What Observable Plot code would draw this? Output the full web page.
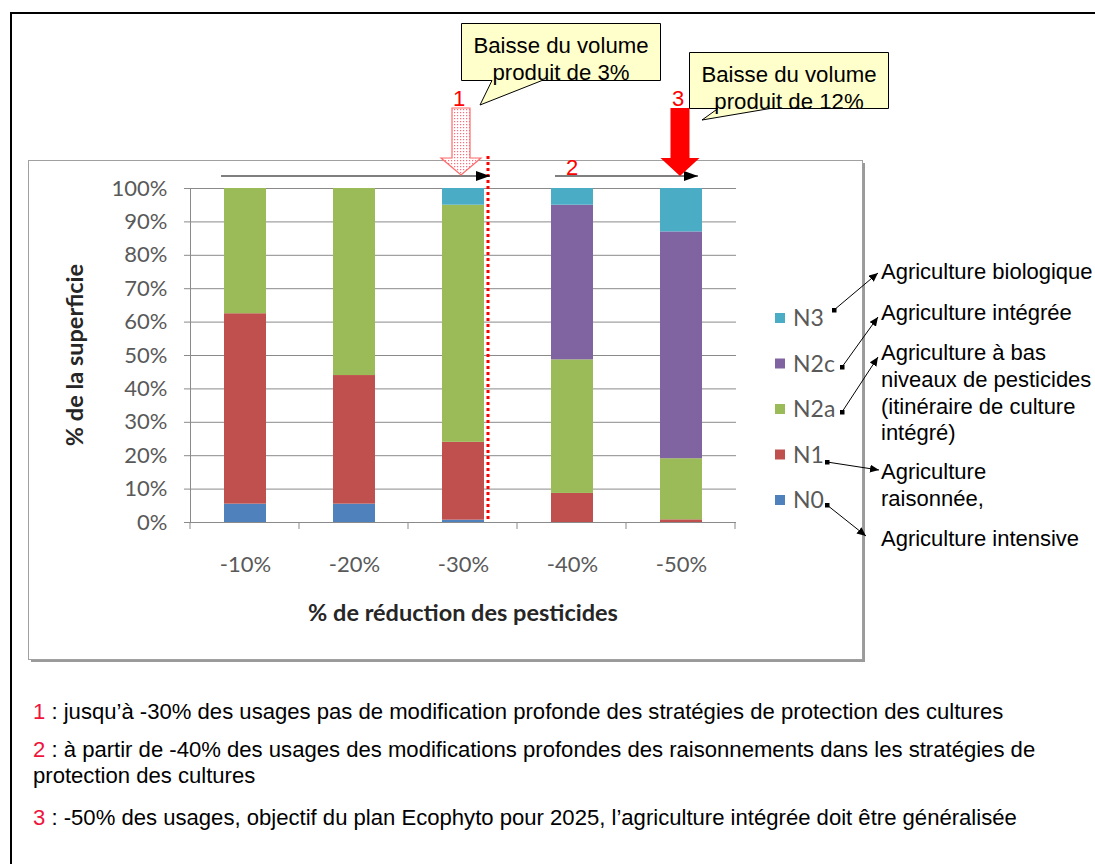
<!DOCTYPE html>
<html><head><meta charset="utf-8">
<script src="https://cdn.jsdelivr.net/npm/d3@7"></script>
<script src="https://cdn.jsdelivr.net/npm/@observablehq/plot@0.6"></script>
<style>
html,body{margin:0;padding:0;background:#fff;}
#chart{position:relative;width:1095px;height:864px;overflow:hidden;}
#chart svg{display:block;}
</style></head><body><div id="chart"></div>
<script>
// ---- data ----
const categories = ["-10%", "-20%", "-30%", "-40%", "-50%"];
const levels = ["N0", "N1", "N2a", "N2c", "N3"];
const levelColors = ["#4F81BD", "#C0504D", "#9BBB59", "#8064A2", "#4BACC6"];
const N0  = [5.5, 5.5, 0.7, 0, 0];
const N1  = [57, 38.5, 23.3, 8.7, 0.8];
const N2a = [37.5, 56, 71, 40, 18.3];
const N2c = [0, 0, 0, 46.3, 67.9];
const N3  = [0, 0, 5, 5, 13];
const yTicks = [0, 10, 20, 30, 40, 50, 60, 70, 80, 90, 100];
const yTitle = "% de la superficie";
const xTitle = "% de réduction des pesticides";
const levelDescriptions = [
  ["Agriculture biologique"],
  ["Agriculture intégrée"],
  ["Agriculture à bas", "niveaux de pesticides", "(itinéraire de culture", "intégré)"],
  ["Agriculture", "raisonnée,"],
  ["Agriculture intensive"]
];
const callout1 = ["Baisse du volume", "produit de 3%"];
const callout2 = ["Baisse du volume", "produit de 12%"];
const notes = [
  ["1", " : jusqu’à -30% des usages pas de modification profonde des stratégies de protection des cultures"],
  ["2", " : à partir de -40% des usages des modifications profondes des raisonnements dans les stratégies de", "protection des cultures"],
  ["3", " : -50% des usages, objectif du plan Ecophyto pour 2025, l’agriculture intégrée doit être généralisée"]
];

const series = [N0, N1, N2a, N2c, N3];
const table = levels.flatMap((lv, j) => categories.map((c, i) => ({cat: c, level: lv, value: series[j][i]})));

const chart = Plot.plot({
  width: 1095, height: 864,
  marginLeft: 190, marginRight: 359, marginTop: 188, marginBottom: 342,
  style: {fontFamily: "Lato, sans-serif", background: "transparent", overflow: "visible"},
  x: {domain: categories, paddingInner: 0.615, paddingOuter: 0.3075},
  y: {domain: [0, 100]},
  color: {domain: levels, range: levelColors},
  marks: [
    Plot.ruleY(yTicks, {stroke: "#8a8a8a", strokeWidth: 1}),
    Plot.barY(table, {x: "cat", y: "value", fill: "level"}),
    Plot.axisY(yTicks, {tickFormat: d => d + "%", tickSize: 6, tickPadding: 17, fontSize: 22, stroke: "#8a8a8a", fill: "#595959", label: null}),
    Plot.axisX({tickSize: 0, tickPadding: 34, fontSize: 22, fill: "#595959", label: null})
  ]
});
document.getElementById("chart").appendChild(chart);

const xs = chart.scale("x"), ys = chart.scale("y");
const X = c => xs.apply(c), Y = v => ys.apply(v);
const bw = xs.bandwidth, step = xs.step;
const [xr0, xr1] = xs.range;
const svg = d3.select(chart);
const SANS = "'Liberation Sans', Arial, sans-serif";

// defs
const defs = svg.append("defs");
defs.append("marker").attr("id", "ahBig").attr("markerUnits", "userSpaceOnUse")
  .attr("viewBox", "0 0 14 10").attr("refX", 14).attr("refY", 5)
  .attr("markerWidth", 14).attr("markerHeight", 10).attr("orient", "auto")
  .append("path").attr("d", "M0,0 L14,5 L0,10 Z").attr("fill", "#000");
defs.append("marker").attr("id", "ahSmall").attr("markerUnits", "userSpaceOnUse")
  .attr("viewBox", "0 0 9 8").attr("refX", 9).attr("refY", 4)
  .attr("markerWidth", 9).attr("markerHeight", 8).attr("orient", "auto")
  .append("path").attr("d", "M0,0 L9,4 L0,8 Z").attr("fill", "#000");
defs.append("marker").attr("id", "sq").attr("markerUnits", "userSpaceOnUse")
  .attr("viewBox", "0 0 5 5").attr("refX", 2.5).attr("refY", 2.5)
  .attr("markerWidth", 5).attr("markerHeight", 5)
  .append("rect").attr("width", 5).attr("height", 5).attr("fill", "#000");
const pat = defs.append("pattern").attr("id", "dots").attr("patternUnits", "userSpaceOnUse")
  .attr("width", 3).attr("height", 3);
pat.append("rect").attr("width", 3).attr("height", 3).attr("fill", "#fff");
pat.append("rect").attr("x", 1).attr("y", 1).attr("width", 1.2).attr("height", 1.2).attr("fill", "#ff6b7a");

// background frames (behind marks)
const bg = svg.insert("g", ":first-child");
bg.append("rect").attr("x", 0).attr("y", 0).attr("width", 1095).attr("height", 864).attr("fill", "#fff");
bg.append("rect").attr("x", 11).attr("y", 13).attr("width", 1110).attr("height", 900)
  .attr("fill", "none").attr("stroke", "#000").attr("stroke-width", 2);
bg.append("rect").attr("x", 31).attr("y", 163).attr("width", 834).attr("height", 499).attr("fill", "#9a9a9a");
bg.append("rect").attr("x", 28.5).attr("y", 160.5).attr("width", 834).attr("height", 499)
  .attr("fill", "#fff").attr("stroke", "#a0a0a0").attr("stroke-width", 1);

const g = svg.append("g").attr("text-anchor", "start");
// y axis line & x ticks
g.append("line").attr("x1", xr0 + 0.5).attr("x2", xr0 + 0.5).attr("y1", Y(100)).attr("y2", Y(0))
  .attr("stroke", "#8a8a8a");
g.append("line").attr("x1", xr0).attr("x2", xr1).attr("y1", Y(0) + 0.5).attr("y2", Y(0) + 0.5)
  .attr("stroke", "#8a8a8a");
d3.range(categories.length + 1).forEach(k => {
  const x = xr0 + k * step;
  g.append("line").attr("x1", x).attr("x2", x).attr("y1", Y(0)).attr("y2", Y(0) + 7).attr("stroke", "#8a8a8a");
});
// axis titles
g.append("text").text(xTitle).attr("x", (xr0 + xr1) / 2).attr("y", Y(0) + 99)
  .attr("text-anchor", "middle").attr("font-family", "Lato, sans-serif").attr("font-weight", "bold")
  .attr("font-size", 23.5).attr("fill", "#262626");
g.append("text").text(yTitle).attr("transform", `translate(83,${(Y(0) + Y(100)) / 2}) rotate(-90)`)
  .attr("text-anchor", "middle").attr("font-family", "Lato, sans-serif").attr("font-weight", "bold")
  .attr("font-size", 23.5).attr("fill", "#262626");

// red dotted separator
const redX = X("-30%") + bw + 4;
g.append("line").attr("x1", redX).attr("x2", redX).attr("y1", 156).attr("y2", Y(0))
  .attr("stroke", "#ff0000").attr("stroke-width", 3).attr("stroke-dasharray", "3,3");

// horizontal arrows
const arrowY = 176;
g.append("line").attr("x1", X("-10%") - 3).attr("x2", redX + 2).attr("y1", arrowY).attr("y2", arrowY)
  .attr("stroke", "#000").attr("stroke-width", 1.2).attr("marker-end", "url(#ahBig)");
g.append("line").attr("x1", X("-40%") + 4).attr("x2", X("-50%") + bw - 4).attr("y1", arrowY).attr("y2", arrowY)
  .attr("stroke", "#000").attr("stroke-width", 1.2).attr("marker-end", "url(#ahBig)");
g.append("text").text("2").attr("x", X("-40%") + bw / 2).attr("y", arrowY - 1)
  .attr("text-anchor", "middle").attr("font-family", SANS).attr("font-size", 22).attr("fill", "#ff0000");

// big down arrows
function downArrow(cx, top, neck, tip, sh, hh) {
  return `M${cx - sh},${top} H${cx + sh} V${neck} H${cx + hh} L${cx},${tip} L${cx - hh},${neck} H${cx - sh} Z`;
}
const a1 = X("-30%") + bw / 2 - 2;
const a3 = X("-50%") + bw / 2 - 1;
g.append("path").attr("d", downArrow(a1, 108, 158, 175, 9, 20))
  .attr("fill", "url(#dots)").attr("stroke", "#ff6b6b").attr("stroke-width", 1.2);
g.append("path").attr("d", downArrow(a3, 108, 158, 176, 9.5, 19.5)).attr("fill", "#ff0000");
g.append("text").text("1").attr("x", a1 - 2).attr("y", 106).attr("text-anchor", "middle")
  .attr("font-family", SANS).attr("font-size", 22).attr("fill", "#ff0000");
g.append("text").text("3").attr("x", a3 - 2).attr("y", 106).attr("text-anchor", "middle")
  .attr("font-family", SANS).attr("font-size", 22).attr("fill", "#ff0000");

// callouts
function callout(x0, y0, x1, y1, b0, b1, tx, ty, lines) {
  g.append("path").attr("d", `M${x0},${y0} H${x1} V${y1} H${b1} L${tx},${ty} L${b0},${y1} H${x0} Z`)
    .attr("fill", "#ffffcc").attr("stroke", "#000").attr("stroke-width", 1);
  lines.forEach((t, i) => g.append("text").text(t).attr("x", (x0 + x1) / 2).attr("y", y0 + 29 + i * 27)
    .attr("text-anchor", "middle").attr("font-family", SANS).attr("font-size", 22.2).attr("fill", "#000"));
}
callout(461.5, 23.5, 660.5, 80.5, 492, 542, 480, 105, callout1);
callout(689.5, 52.5, 888.5, 108.5, 718, 770, 702, 120, callout2);

// legend
const legY0 = 318, legStep = 45.5;
levels.slice().reverse().forEach((lv, i) => {
  const y = legY0 + i * legStep;
  g.append("rect").attr("x", 775).attr("y", y - 5).attr("width", 10).attr("height", 10)
    .attr("fill", levelColors[levels.indexOf(lv)]);
  g.append("text").text(lv).attr("x", 793).attr("y", y).attr("dy", "0.36em").attr("text-anchor", "start")
    .attr("font-family", "Lato, sans-serif").attr("font-size", 23).attr("fill", "#595959");
});

// level descriptions (reverse order: N3 at top)
const descY = [[272], [313], [353, 380, 407, 433], [472, 499], [539]];
levelDescriptions.forEach((lines, i) => lines.forEach((t, k) =>
  g.append("text").text(t).attr("x", 881).attr("y", descY[i][k] + 7).attr("text-anchor", "start")
    .attr("font-family", SANS).attr("font-size", 22).attr("fill", "#000")));
const links = [[834, 310, 878, 273], [842, 367, 878, 317], [842, 412, 878, 357], [827, 462, 879, 470], [827, 505, 866, 536]];
links.forEach(([x1, y1, x2, y2]) => g.append("line").attr("x1", x1).attr("y1", y1).attr("x2", x2).attr("y2", y2)
  .attr("stroke", "#000").attr("stroke-width", 1).attr("marker-start", "url(#sq)").attr("marker-end", "url(#ahSmall)"));

// notes
const noteY = [[719], [757, 783], [825]];
notes.forEach((n, i) => {
  const t = g.append("text").attr("x", 33).attr("y", noteY[i][0]).attr("font-family", SANS).attr("text-anchor", "start")
    .attr("font-size", 22.1).attr("fill", "#000");
  t.append("tspan").text(n[0]).attr("fill", "#f0143c");
  t.append("tspan").text(n[1]);
  if (n[2]) g.append("text").text(n[2]).attr("x", 33).attr("y", noteY[i][1]).attr("font-family", SANS)
    .attr("text-anchor", "start").attr("font-size", 22.1).attr("fill", "#000");
});
</script></body></html>
